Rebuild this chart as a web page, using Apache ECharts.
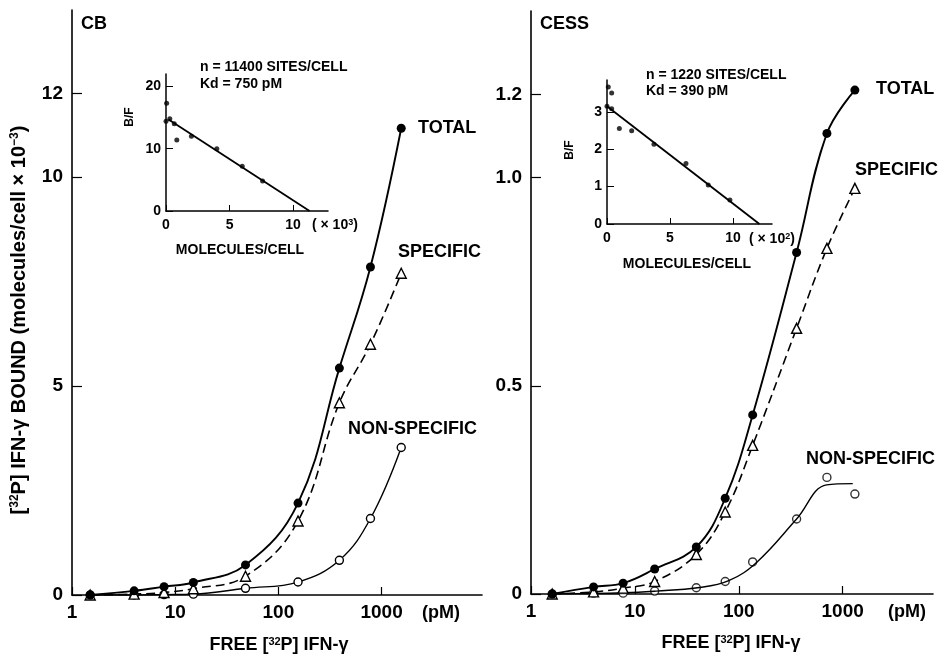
<!DOCTYPE html>
<html>
<head>
<meta charset="utf-8">
<script src="https://cdn.jsdelivr.net/npm/echarts@6/dist/echarts.min.js"></script>
<style>
  html, body { margin: 0; padding: 0; background: #fff; }
  #chart { width: 945px; height: 658px; }
</style>
</head>
<body>
<div id="chart"></div>
<script>
// CB panel (molecules/cell x 10^-3)
const cbX = [1.5, 4, 7.8, 15, 48, 155, 390, 780, 1550];
const cbTotal = [0, 0.1, 0.2, 0.3, 0.72, 2.2, 5.43, 7.85, 11.17];
const cbSpecific = [0, 0.02, 0.06, 0.15, 0.45, 1.77, 4.6, 6.0, 7.7];
const cbNonSpecific = [0, 0, 0.01, 0.02, 0.16, 0.31, 0.83, 1.83, 3.53];

// CESS panel
const cessX = [1.6, 4, 7.7, 15.5, 39, 74, 136, 360, 705, 1310];
const cessTotal = [0, 0.017, 0.026, 0.06, 0.113, 0.23, 0.43, 0.82, 1.106, 1.21];
const cessSpecific = [0, 0.005, 0.014, 0.03, 0.095, 0.197, 0.357, 0.638, 0.83, 0.974];
const cessNonSpecific = [0, 0.002, 0.002, 0.007, 0.015, 0.03, 0.077, 0.18, 0.28, 0.24];
// hand-drawn fit through the non-specific points
const cessNsCurveX = [1.6, 8, 16, 40, 80, 150, 360, 700, 1250];
const cessNsCurveY = [0, 0.003, 0.007, 0.015, 0.032, 0.077, 0.18, 0.262, 0.265];

// Scatchard insets
const cbScatX = [0.05, 0, 0.3, 0.65, 0.85, 2.0, 4.0, 6.0, 7.6];
const cbScatY = [17.3, 14.4, 14.8, 14.0, 11.4, 12.0, 10.0, 7.2, 4.8];
const cbFitX = [0.2, 11.3];
const cbFitY = [14.7, 0];

const cessScatX = [0.1, 0.37, 0, 0.37, 0.98, 1.96, 3.73, 6.27, 8.04, 9.76];
const cessScatY = [3.66, 3.5, 3.15, 3.08, 2.55, 2.49, 2.13, 1.62, 1.04, 0.64];
const cessFitX = [0, 12.1];
const cessFitY = [3.15, 0];

// tick labels
const xTicks = [1, 10, 100, 1000];
const cbYTicks = [0, 5, 10, 12];
const cessYTicks = [0, 0.5, 1.0, 1.2];
const cbInsetYTicks = [0, 10, 20];
const cessInsetYTicks = [0, 1, 2, 3];
const insetXTicks = [0, 5, 10];

const FONT = 'Liberation Sans, Arial, sans-serif';
const pairs = (xs, ys) => xs.map((x, i) => [x, ys[i]]);

const chart = echarts.init(document.getElementById('chart'));

const mainX = (idx, max) => ({
  type: 'log', gridIndex: idx, logBase: 10, min: 1, max: max,
  axisLine: { lineStyle: { color: '#000', width: 1.6 } },
  axisTick: { inside: true, length: 8, customValues: xTicks, lineStyle: { color: '#000', width: 1.2 } },
  axisLabel: {
    customValues: xTicks, color: '#000', fontSize: 19, fontWeight: 'bold', fontFamily: FONT, margin: 8,
    formatter: v => String(Math.round(v))
  },
  splitLine: { show: false }, minorTick: { show: false }
});
const mainY = (idx, max, ticks, fmt) => ({
  type: 'value', gridIndex: idx, min: 0, max: max,
  axisLine: { show: true, lineStyle: { color: '#000', width: 1.6 } },
  axisTick: { show: true, inside: true, length: 10, customValues: ticks, lineStyle: { color: '#000', width: 1.2 } },
  axisLabel: { customValues: ticks, color: '#000', fontSize: 19, fontWeight: 'bold', fontFamily: FONT, margin: 9, formatter: fmt },
  splitLine: { show: false }
});
const insetX = (idx, max) => ({
  type: 'value', gridIndex: idx, min: 0, max: max,
  axisLine: { lineStyle: { color: '#000', width: 1.5 } },
  axisTick: { inside: true, length: 6, customValues: insetXTicks, lineStyle: { color: '#000' } },
  axisLabel: { customValues: insetXTicks, color: '#000', fontSize: 14, fontWeight: 'bold', fontFamily: FONT, margin: 7 },
  splitLine: { show: false }
});
const insetY = (idx, max, ticks) => ({
  type: 'value', gridIndex: idx, min: 0, max: max,
  axisLine: { show: true, lineStyle: { color: '#000', width: 1.5 } },
  axisTick: { show: true, inside: true, length: 7, customValues: ticks, lineStyle: { color: '#000' } },
  axisLabel: { customValues: ticks, color: '#000', fontSize: 14, fontWeight: 'bold', fontFamily: FONT, margin: 5 },
  splitLine: { show: false }
});

const filled = { color: '#000' };
const open = { color: '#fff', borderColor: '#000', borderWidth: 1.4 };

const txt = (x, y, text, size, align, extra) => Object.assign({
  type: 'text', x: x, y: y,
  style: {
    text: text, fontSize: size, fontWeight: 'bold', fontFamily: FONT, fill: '#000',
    textAlign: align || 'left', textVerticalAlign: 'middle',
    rich: { s: { fontSize: Math.round(size * 0.62), fontWeight: 'bold', fontFamily: FONT, fill: '#000', verticalAlign: 'top' } }
  }
}, extra || {});

const option = {
  animation: false,
  backgroundColor: '#fff',
  grid: [
    { left: 72, top: 10, width: 410, height: 585 },
    { left: 531, top: 11, width: 402, height: 583 },
    { left: 166, top: 74, width: 162, height: 137 },
    { left: 607, top: 80, width: 165, height: 144 }
  ],
  xAxis: [mainX(0, 9400), mainX(1, 7400), insetX(2, 12.75), insetX(3, 13.1)],
  yAxis: [
    mainY(0, 14, cbYTicks, v => String(v)),
    mainY(1, 1.4, cessYTicks, v => (v === 0 ? '0' : v.toFixed(1))),
    insetY(2, 22, cbInsetYTicks),
    insetY(3, 3.85, cessInsetYTicks)
  ],
  series: [
    { type: 'line', xAxisIndex: 0, yAxisIndex: 0, data: pairs(cbX, cbNonSpecific),
      smooth: 0.4, symbol: 'circle', symbolSize: 8,
      lineStyle: { color: '#000', width: 1.4 }, itemStyle: open },
    { type: 'line', xAxisIndex: 0, yAxisIndex: 0, data: pairs(cbX, cbSpecific),
      smooth: 0.4, symbol: 'triangle', symbolSize: 10,
      lineStyle: { color: '#000', width: 1.6, type: [9, 5] }, itemStyle: open },
    { type: 'line', xAxisIndex: 0, yAxisIndex: 0, data: pairs(cbX, cbTotal),
      smooth: 0.4, symbol: 'circle', symbolSize: 9,
      lineStyle: { color: '#000', width: 1.9 }, itemStyle: filled },

    { type: 'line', xAxisIndex: 1, yAxisIndex: 1, data: pairs(cessNsCurveX, cessNsCurveY),
      smooth: 0.4, showSymbol: false,
      lineStyle: { color: '#000', width: 1.4 } },
    { type: 'scatter', xAxisIndex: 1, yAxisIndex: 1, data: pairs(cessX, cessNonSpecific),
      symbol: 'circle', symbolSize: 8, itemStyle: open },
    { type: 'line', xAxisIndex: 1, yAxisIndex: 1, data: pairs(cessX, cessSpecific),
      smooth: 0.4, symbol: 'triangle', symbolSize: 10,
      lineStyle: { color: '#000', width: 1.6, type: [9, 5] }, itemStyle: open },
    { type: 'line', xAxisIndex: 1, yAxisIndex: 1, data: pairs(cessX, cessTotal),
      smooth: 0.4, symbol: 'circle', symbolSize: 9,
      lineStyle: { color: '#000', width: 1.9 }, itemStyle: filled },

    { type: 'line', xAxisIndex: 2, yAxisIndex: 2, data: pairs(cbFitX, cbFitY),
      showSymbol: false, lineStyle: { color: '#000', width: 1.8 } },
    { type: 'scatter', xAxisIndex: 2, yAxisIndex: 2, data: pairs(cbScatX, cbScatY),
      symbol: 'circle', symbolSize: 5, itemStyle: filled },

    { type: 'line', xAxisIndex: 3, yAxisIndex: 3, data: pairs(cessFitX, cessFitY),
      showSymbol: false, lineStyle: { color: '#000', width: 1.8 } },
    { type: 'scatter', xAxisIndex: 3, yAxisIndex: 3, data: pairs(cessScatX, cessScatY),
      symbol: 'circle', symbolSize: 5, itemStyle: filled }
  ],
  graphic: [
    txt(81, 24, 'CB', 18),
    txt(540, 24, 'CESS', 18),
    txt(418, 128, 'TOTAL', 18),
    txt(398, 252, 'SPECIFIC', 18),
    txt(348, 429, 'NON-SPECIFIC', 18),
    txt(876, 89, 'TOTAL', 18),
    txt(855, 170, 'SPECIFIC', 18),
    txt(806, 459, 'NON-SPECIFIC', 18),
    txt(422, 613, '(pM)', 18),
    txt(888, 612, '(pM)', 18),
    txt(279, 645, 'FREE [{s|32}P] IFN-γ', 18, 'center'),
    txt(731, 643, 'FREE [{s|32}P] IFN-γ', 18, 'center'),
    txt(19, 320, '[{s|32}P] IFN-γ BOUND (molecules/cell × 10{s|−3})', 20, 'center', { rotation: Math.PI / 2 }),

    txt(200, 67, 'n = 11400 SITES/CELL', 14),
    txt(200, 84, 'Kd = 750 pM', 14),
    txt(240, 250, 'MOLECULES/CELL', 14, 'center'),
    txt(312, 225, '( × 10{s|3})', 14),
    txt(130, 117, 'B/F', 12, 'center', { rotation: Math.PI / 2 }),

    txt(646, 75, 'n = 1220 SITES/CELL', 14),
    txt(646, 91, 'Kd = 390 pM', 14),
    txt(687, 264, 'MOLECULES/CELL', 14, 'center'),
    txt(749, 239, '( × 10{s|2})', 14),
    txt(570, 150, 'B/F', 12, 'center', { rotation: Math.PI / 2 })
  ]
};

chart.setOption(option);
</script>
</body>
</html>
